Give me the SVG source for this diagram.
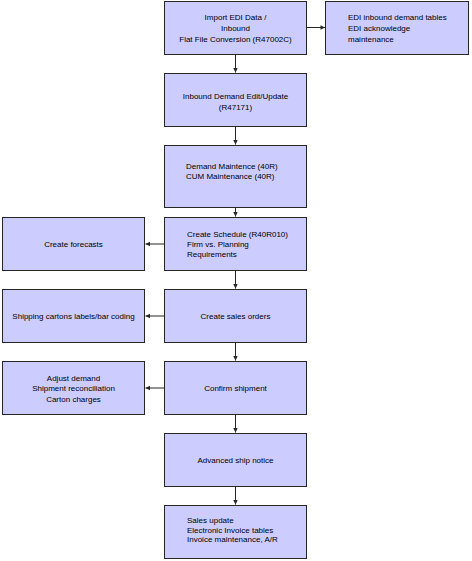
<svg xmlns="http://www.w3.org/2000/svg" width="472" height="561" viewBox="0 0 472 561">
<style>
.box{fill:#ccccff;stroke:#262626;stroke-width:1}
text{font-family:"Liberation Sans",Arial,Helvetica,sans-serif;font-size:8px;fill:#000}
.c{text-anchor:middle}
.edge{stroke:#262626;stroke-width:1;fill:none;marker-end:url(#ah)}
</style>
<defs>
<marker id="ah" markerWidth="6" markerHeight="6" refX="5" refY="3" orient="auto" markerUnits="userSpaceOnUse">
<path d="M0.5,0.8 L5,3 L0.5,5.2 Z" fill="#262626"/>
</marker>
</defs>
<rect width="472" height="561" fill="#ffffff"/>
<g id="connectors">
<path class="edge" d="M307,27.5 H325"/>
<path class="edge" d="M235.5,54 V72.5"/>
<path class="edge" d="M235.5,127 V144.5"/>
<path class="edge" d="M235.5,208 V216.5"/>
<path class="edge" d="M164,244 H145.5"/>
<path class="edge" d="M235.5,271 V288.5"/>
<path class="edge" d="M164,316 H145.5"/>
<path class="edge" d="M235.5,343 V360.5"/>
<path class="edge" d="M164,388 H145.5"/>
<path class="edge" d="M235.5,415 V432.5"/>
<path class="edge" d="M235.5,487 V504.5"/>
</g>
<g id="n-import">
<rect class="box" x="164.5" y="1.5" width="142" height="53"/>
<text class="c" x="235.5" y="20">Import EDI Data /</text>
<text class="c" x="235.5" y="31">Inbound</text>
<text class="c" x="235.5" y="42">Flat File Conversion (R47002C)</text>
</g>
<g id="n-editables">
<rect class="box" x="325.5" y="1.5" width="143" height="53"/>
<text x="348" y="20">EDI inbound demand tables</text>
<text x="348" y="31">EDI acknowledge</text>
<text x="348" y="42">maintenance</text>
</g>
<g id="n-inbound">
<rect class="box" x="164.5" y="73.5" width="142" height="53"/>
<text class="c" x="235.5" y="99">Inbound Demand Edit/Update</text>
<text class="c" x="235.5" y="110">(R47171)</text>
</g>
<g id="n-demand">
<rect class="box" x="164.5" y="145.5" width="142" height="62"/>
<text x="186" y="169">Demand Maintence (40R)</text>
<text x="186" y="179">CUM Maintenance (40R)</text>
</g>
<g id="n-schedule">
<rect class="box" x="164.5" y="217.5" width="142" height="53"/>
<text x="187" y="237">Create Schedule (R40R010)</text>
<text x="187" y="247">Firm vs. Planning</text>
<text x="187" y="257">Requirements</text>
</g>
<g id="n-forecasts">
<rect class="box" x="2.5" y="217.5" width="142" height="53"/>
<text class="c" x="73.5" y="247">Create forecasts</text>
</g>
<g id="n-salesorders">
<rect class="box" x="164.5" y="289.5" width="142" height="53"/>
<text class="c" x="235.5" y="319">Create sales orders</text>
</g>
<g id="n-cartons">
<rect class="box" x="2.5" y="289.5" width="142" height="53"/>
<text class="c" x="73.5" y="319">Shipping cartons labels/bar coding</text>
</g>
<g id="n-confirm">
<rect class="box" x="164.5" y="361.5" width="142" height="53"/>
<text class="c" x="235.5" y="391">Confirm shipment</text>
</g>
<g id="n-adjust">
<rect class="box" x="2.5" y="361.5" width="142" height="53"/>
<text class="c" x="73.5" y="380.5">Adjust demand</text>
<text class="c" x="73.5" y="391">Shipment reconciliation</text>
<text class="c" x="73.5" y="401.5">Carton charges</text>
</g>
<g id="n-asn">
<rect class="box" x="164.5" y="433.5" width="142" height="53"/>
<text class="c" x="235.5" y="463">Advanced ship notice</text>
</g>
<g id="n-salesupdate">
<rect class="box" x="164.5" y="505.5" width="142" height="53"/>
<text x="187" y="523">Sales update</text>
<text x="187" y="532.5">Electronic Invoice tables</text>
<text x="187" y="542">Invoice maintenance, A/R</text>
</g>
</svg>
